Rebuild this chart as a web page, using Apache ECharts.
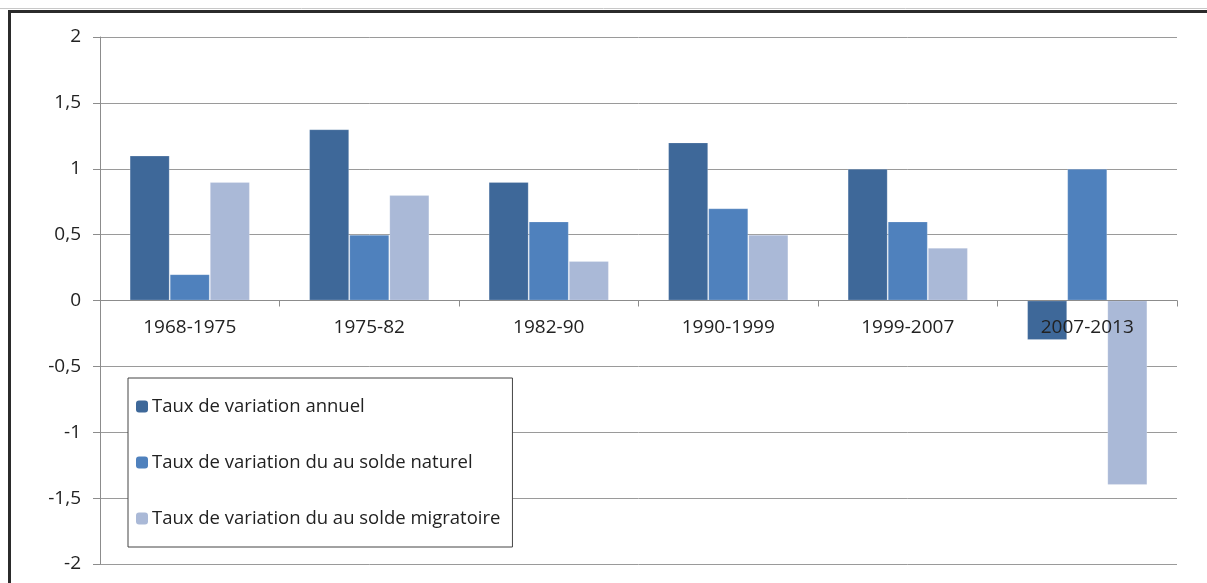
<!DOCTYPE html>
<html>
<head>
<meta charset="utf-8">
<script src="https://cdn.jsdelivr.net/npm/echarts@6/dist/echarts.min.js"></script>
<style>
  html, body { margin: 0; padding: 0; background: #fff; }
  #main { width: 1207px; height: 583px; }
</style>
</head>
<body>
<div id="main"></div>
<script>
var periodes = ["1968-1975", "1975-82", "1982-90", "1990-1999", "1999-2007", "2007-2013"];
var tauxAnnuel = [1.1, 1.3, 0.9, 1.2, 1.0, -0.3];
var tauxNaturel = [0.2, 0.5, 0.6, 0.7, 0.6, 1.0];
var tauxMigratoire = [0.9, 0.8, 0.3, 0.5, 0.4, -1.4];

var FONT = "'Open Sans', 'Liberation Sans', sans-serif";

var chart = echarts.init(document.getElementById("main"));

function barSerie(name, data, color) {
  return {
    name: name,
    type: "bar",
    data: data,
    barGap: "0%",
    barCategoryGap: "33%",
    itemStyle: { color: color, borderColor: "rgba(255,255,255,0.2)", borderWidth: 1 },
    z: 2
  };
}

var option = {
  animation: false,
  textStyle: { fontFamily: FONT },
  grid: { left: 100, right: 30, top: 37, bottom: 19, containLabel: false, outerBoundsMode: "none" },
  legend: {
    orient: "vertical",
    left: 128,
    top: 378,
    padding: [19, 12, 19, 8],
    itemGap: 37,
    itemWidth: 12,
    itemHeight: 12,
    itemStyle: { borderWidth: 0 },
    backgroundColor: "#fff",
    borderColor: "#444",
    borderWidth: 1,
    textStyle: { fontFamily: FONT, fontSize: 18.5, color: "#222", padding: [0, 0, 0, -1] },
    data: [
      "Taux de variation annuel",
      "Taux de variation du au solde naturel",
      "Taux de variation du au solde migratoire"
    ]
  },
  xAxis: {
    type: "category",
    data: periodes,
    z: 10,
    offset: -263.5,
    axisLine: { onZero: false, lineStyle: { color: "#8c8c8c" } },
    axisTick: { show: true, length: 6, lineStyle: { color: "#8c8c8c" } },
    axisLabel: { fontFamily: FONT, fontSize: 19, color: "#222", margin: 18 }
  },
  yAxis: {
    type: "value",
    min: -2,
    max: 2,
    interval: 0.5,
    axisLine: { show: true, lineStyle: { color: "#8c8c8c" } },
    axisTick: { show: true, length: 7, lineStyle: { color: "#8c8c8c" } },
    splitLine: { lineStyle: { color: "#9a9a9a", width: 1 } },
    axisLabel: {
      fontFamily: FONT,
      fontSize: 19,
      color: "#222",
      margin: 19,
      formatter: function (v) { return String(v).replace(".", ","); }
    }
  },
  graphic: [
    {
      type: "polyline",
      shape: { points: [[9.5, 600], [9.5, 11.5], [1220, 11.5]] },
      style: { stroke: "#2b2b2b", lineWidth: 3, fill: null },
      z: 20
    },
    {
      type: "line",
      shape: { x1: 0, y1: 8.5, x2: 1207, y2: 8.5 },
      style: { stroke: "#c8c8c8", lineWidth: 1 },
      z: 20
    }
  ],
  series: [
    barSerie("Taux de variation annuel", tauxAnnuel, "#3e6899"),
    barSerie("Taux de variation du au solde naturel", tauxNaturel, "#4f81bd"),
    barSerie("Taux de variation du au solde migratoire", tauxMigratoire, "#aab9d7")
  ]
};

chart.setOption(option);
</script>
</body>
</html>
